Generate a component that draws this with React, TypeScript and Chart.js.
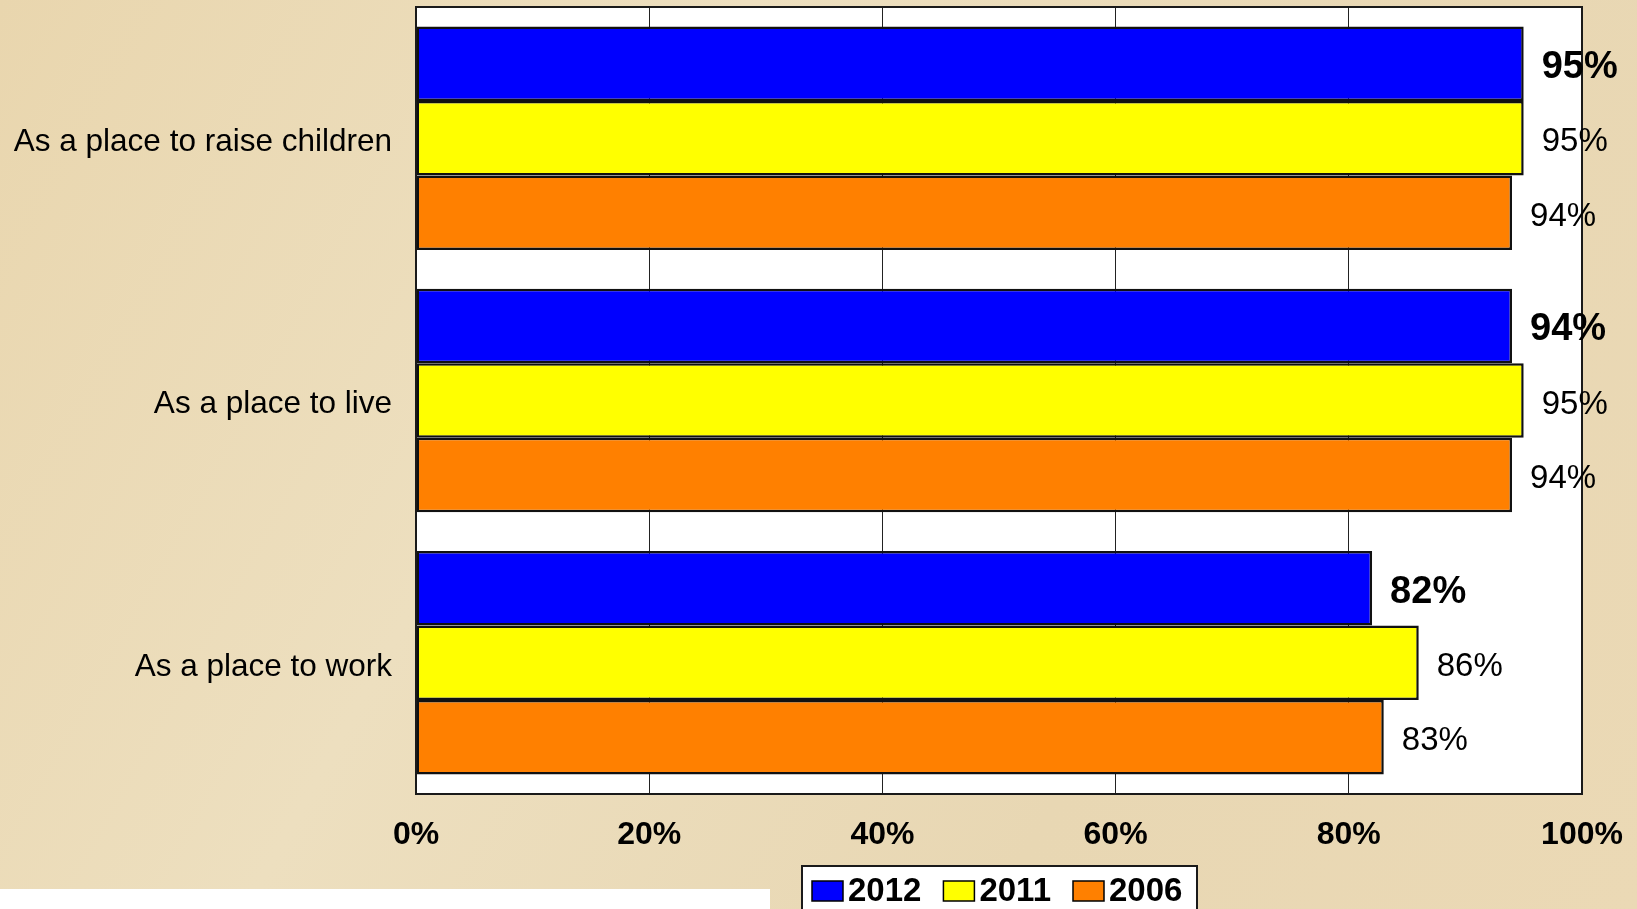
import { useEffect, useRef } from "react";
import { Chart, registerables } from "chart.js";

Chart.register(...registerables);

const categories = ["As a place to raise children", "As a place to live", "As a place to work"];
const seriesLabels = ["2012", "2011", "2006"];
const values2012 = [95, 94, 82];
const values2011 = [95, 95, 86];
const values2006 = [94, 94, 83];
const xTicks = [0, 20, 40, 60, 80, 100];
const seriesColors = ["#0000FF", "#FFFF00", "#FF8000"];

const FONT = '"Liberation Sans", Arial, Helvetica, sans-serif';

const backgroundPlugin = {
  id: "bgPlugin",
  beforeDraw(chart: any) {
    const { ctx, width, height, chartArea } = chart;
    ctx.save();
    const g = ctx.createLinearGradient(0, 0, width, height);
    g.addColorStop(0, "#e9d6ae");
    g.addColorStop(0.35, "#eddfbf");
    g.addColorStop(0.7, "#e8d7b3");
    g.addColorStop(1, "#ebd9b5");
    ctx.fillStyle = g;
    ctx.fillRect(0, 0, width, height);
    ctx.fillStyle = "#ffffff";
    ctx.fillRect(chartArea.left, chartArea.top, chartArea.right - chartArea.left, chartArea.bottom - chartArea.top);
    ctx.fillRect(0, 889, 770, height - 889);
    ctx.restore();
  },
};

const overlayPlugin = {
  id: "overlayPlugin",
  afterDatasetsDraw(chart: any) {
    const { ctx, chartArea } = chart;
    ctx.save();
    // plot border
    ctx.strokeStyle = "#1a1a1a";
    ctx.lineWidth = 2;
    ctx.strokeRect(chartArea.left, chartArea.top, chartArea.right - chartArea.left, chartArea.bottom - chartArea.top);

    // data labels
    ctx.fillStyle = "#000";
    ctx.textAlign = "left";
    ctx.textBaseline = "middle";
    chart.data.datasets.forEach((ds: any, di: number) => {
      const meta = chart.getDatasetMeta(di);
      ctx.font = di === 0 ? `bold 38px ${FONT}` : `33px ${FONT}`;
      meta.data.forEach((el: any, i: number) => {
        ctx.fillText(`${ds.data[i]}%`, el.x + 18, el.y + 4);
      });
    });

    // legend
    const boxX = 802;
    const boxY = 866;
    const boxW = 395;
    ctx.fillStyle = "#ffffff";
    ctx.fillRect(boxX, boxY, boxW, 60);
    ctx.strokeStyle = "#1a1a1a";
    ctx.lineWidth = 2;
    ctx.strokeRect(boxX, boxY, boxW, 60);
    ctx.font = `bold 33px ${FONT}`;
    let x = 812;
    chart.data.datasets.forEach((ds: any) => {
      ctx.fillStyle = ds.backgroundColor;
      ctx.fillRect(x, 881, 31, 20);
      ctx.strokeStyle = "#000";
      ctx.lineWidth = 1.5;
      ctx.strokeRect(x, 881, 31, 20);
      ctx.fillStyle = "#000";
      ctx.fillText(ds.label, x + 36, 892);
      x += 36 + ctx.measureText(ds.label).width + 22;
    });
    ctx.restore();
  },
};

export default function App() {
  const canvasRef = useRef<HTMLCanvasElement | null>(null);

  useEffect(() => {
    const canvas = canvasRef.current;
    if (!canvas) return;
    const seriesValues = [values2012, values2011, values2006];
    const chart = new Chart(canvas, {
      type: "bar",
      data: {
        labels: categories,
        datasets: seriesLabels.map((label, i) => ({
          label,
          data: seriesValues[i],
          backgroundColor: seriesColors[i],
          borderColor: "#111111",
          borderWidth: 2.5,
          borderSkipped: false,
          categoryPercentage: 0.852,
          barPercentage: 1.0,
        })),
      },
      options: {
        indexAxis: "y",
        responsive: false,
        animation: false,
        devicePixelRatio: 1,
        layout: { padding: { top: 7, right: 55, bottom: 0, left: 0 } },
        plugins: {
          legend: { display: false },
          tooltip: { enabled: false },
        },
        scales: {
          x: {
            min: 0,
            max: 100,
            afterBuildTicks: (scale: any) => {
              scale.ticks = xTicks.map((v) => ({ value: v }));
            },
            afterFit: (scale: any) => {
              scale.height = 115;
              scale.paddingLeft = 0;
              scale.paddingRight = 0;
            },
            border: { display: false },
            grid: { color: "#222222", lineWidth: 1, drawTicks: false },
            ticks: {
              padding: 22,
              color: "#000",
              font: { family: FONT, size: 32, weight: "bold" },
              maxRotation: 0,
              callback: (v: any) => `${v}%`,
            },
          },
          y: {
            afterFit: (scale: any) => {
              scale.width = 416;
              scale.paddingTop = 0;
              scale.paddingBottom = 0;
            },
            border: { display: false },
            grid: { display: false, drawTicks: false },
            ticks: {
              padding: 24,
              labelOffset: 4,
              color: "#000",
              font: { family: FONT, size: 31.5 },
            },
          },
        },
      },
      plugins: [backgroundPlugin, overlayPlugin],
    } as any);
    return () => chart.destroy();
  }, []);

  return (
    <div style={{ position: "fixed", left: 0, top: 0, width: 1637, height: 909, overflow: "hidden" }}>
      <canvas ref={canvasRef} width={1637} height={909} style={{ width: 1637, height: 909, display: "block" }} />
    </div>
  );
}
